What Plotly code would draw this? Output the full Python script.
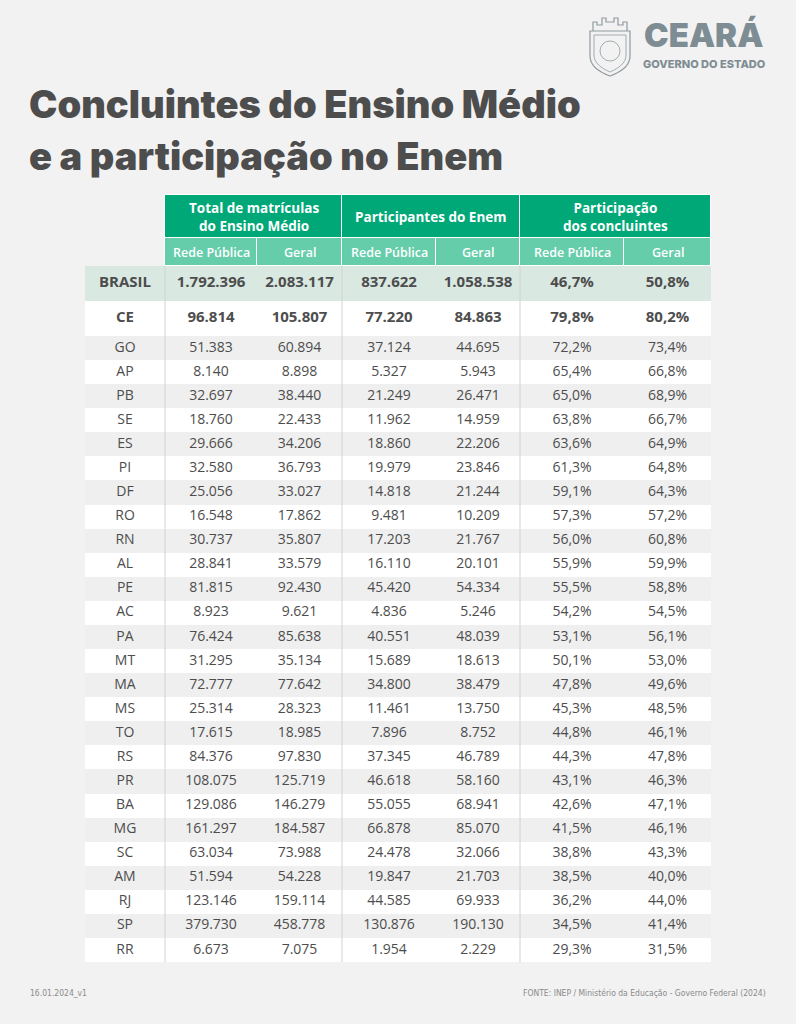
import plotly.graph_objects as go

# ---------------- DATA ----------------
states = ["BRASIL", "CE", "GO", "AP", "PB", "SE", "ES", "PI", "DF", "RO", "RN", "AL", "PE",
          "AC", "PA", "MT", "MA", "MS", "TO", "RS", "PR", "BA", "MG", "SC", "AM", "RJ", "SP", "RR"]
matriculas_publica = [1792396, 96814, 51383, 8140, 32697, 18760, 29666, 32580, 25056, 16548, 30737,
                      28841, 81815, 8923, 76424, 31295, 72777, 25314, 17615, 84376, 108075, 129086,
                      161297, 63034, 51594, 123146, 379730, 6673]
matriculas_geral = [2083117, 105807, 60894, 8898, 38440, 22433, 34206, 36793, 33027, 17862, 35807,
                    33579, 92430, 9621, 85638, 35134, 77642, 28323, 18985, 97830, 125719, 146279,
                    184587, 73988, 54228, 159114, 458778, 7075]
enem_publica = [837622, 77220, 37124, 5327, 21249, 11962, 18860, 19979, 14818, 9481, 17203,
                16110, 45420, 4836, 40551, 15689, 34800, 11461, 7896, 37345, 46618, 55055,
                66878, 24478, 19847, 44585, 130876, 1954]
enem_geral = [1058538, 84863, 44695, 5943, 26471, 14959, 22206, 23846, 21244, 10209, 21767,
              20101, 54334, 5246, 48039, 18613, 38479, 13750, 8752, 46789, 58160, 68941,
              85070, 32066, 21703, 69933, 190130, 2229]
participacao_publica = [46.7, 79.8, 72.2, 65.4, 65.0, 63.8, 63.6, 61.3, 59.1, 57.3, 56.0, 55.9, 55.5,
                        54.2, 53.1, 50.1, 47.8, 45.3, 44.8, 44.3, 43.1, 42.6, 41.5, 38.8, 38.5,
                        36.2, 34.5, 29.3]
participacao_geral = [50.8, 80.2, 73.4, 66.8, 68.9, 66.7, 64.9, 64.8, 64.3, 57.2, 60.8, 59.9, 58.8,
                      54.5, 56.1, 53.0, 49.6, 48.5, 46.1, 47.8, 46.3, 47.1, 46.1, 43.3, 40.0,
                      44.0, 41.4, 31.5]

group_headers = ["Total de matrículas<br>do Ensino Médio", "Participantes do Enem",
                 "Participação<br>dos concluintes"]
sub_headers = ["Rede Pública", "Geral", "Rede Pública", "Geral", "Rede Pública", "Geral"]

title_lines = ["Concluintes do Ensino Médio", "e a participação no Enem"]
footer_left = "16.01.2024_v1"
footer_right = "FONTE: INEP / Ministério da Educação - Governo Federal (2024)"

# ---------------- STYLE / GEOMETRY ----------------
W, H = 796, 1024
BG = "#f2f2f2"
DARK_GREEN = "#00a878"
LIGHT_GREEN = "#66cdab"
BRASIL_FILL = "#d9e8e1"
GREY_ROW = "#efefef"
WHITE = "#ffffff"
TEXT = "#4d4d4d"
LOGO = "#7e8c94"
FONT = "Open Sans"
HEAVY = "Inter"
CONDENSED = "DejaVu Sans Condensed"

table_left = 85
col_widths = [80, 92, 85, 94, 84, 104, 87]
col_lefts = [table_left + sum(col_widths[:i]) for i in range(len(col_widths))]
col_centers = [l + w / 2 for l, w in zip(col_lefts, col_widths)]
table_right = col_lefts[-1] + col_widths[-1]

group_top, group_h, sub_h = 195, 43, 28
big_row_h, row_h = 35, 24.08
body_top = group_top + group_h + sub_h

row_heights = [big_row_h if i < 2 else row_h for i in range(len(states))]
row_tops = [body_top + sum(row_heights[:i]) for i in range(len(states))]
row_centers = [t + h / 2 for t, h in zip(row_tops, row_heights)]
body_bottom = row_tops[-1] + row_heights[-1]

row_fills = []
for i in range(len(states)):
    if i == 0:
        row_fills.append(BRASIL_FILL)
    elif (i - 1) % 2 == 0:
        row_fills.append(WHITE)
    else:
        row_fills.append(GREY_ROW)


def fmt_int(v):
    return f"{v:,}".replace(",", ".")


def fmt_pct(v):
    return f"{v:.1f}".replace(".", ",") + "%"


columns_text = [
    states,
    [fmt_int(v) for v in matriculas_publica],
    [fmt_int(v) for v in matriculas_geral],
    [fmt_int(v) for v in enem_publica],
    [fmt_int(v) for v in enem_geral],
    [fmt_pct(v) for v in participacao_publica],
    [fmt_pct(v) for v in participacao_geral],
]

fig = go.Figure()

# Row backgrounds
fig.add_trace(go.Bar(
    orientation="h", y=row_centers, x=[table_right - table_left] * len(states),
    base=[table_left] * len(states), width=row_heights,
    marker=dict(color=row_fills, line=dict(width=0)), hoverinfo="skip", showlegend=False))

# Group header cells
group_lefts = [col_lefts[1], col_lefts[3], col_lefts[5]]
group_widths = [col_widths[1] + col_widths[2], col_widths[3] + col_widths[4], col_widths[5] + col_widths[6]]
fig.add_trace(go.Bar(
    orientation="h", y=[group_top + group_h / 2] * 3, x=group_widths, base=group_lefts,
    width=[group_h] * 3, marker=dict(color=DARK_GREEN, line=dict(color=WHITE, width=1)),
    hoverinfo="skip", showlegend=False))

# Sub header cells
fig.add_trace(go.Bar(
    orientation="h", y=[group_top + group_h + sub_h / 2] * 6, x=col_widths[1:], base=col_lefts[1:],
    width=[sub_h] * 6, marker=dict(color=LIGHT_GREEN, line=dict(color=WHITE, width=1)),
    hoverinfo="skip", showlegend=False))

# Cell texts
for j, col in enumerate(columns_text):
    texts = [f"<b>{t}</b>" if i < 2 else t for i, t in enumerate(col)]
    sizes = [15 if i < 2 else 14 for i in range(len(col))]
    fig.add_trace(go.Scatter(
        x=[col_centers[j]] * len(col), y=row_centers, mode="text", text=texts,
        textposition="middle center",
        textfont=dict(family=FONT, size=sizes, color=TEXT),
        hoverinfo="skip", showlegend=False, cliponaxis=False))

annotations = []
for k, g in enumerate(group_headers):
    annotations.append(dict(x=group_lefts[k] + group_widths[k] / 2, y=group_top + group_h / 2,
                            text=g, showarrow=False, xref="x", yref="y",
                            font=dict(family=FONT, size=13.5, color=WHITE, weight=700)))
for k, s in enumerate(sub_headers):
    annotations.append(dict(x=col_centers[k + 1], y=group_top + group_h + sub_h / 2,
                            text=s, showarrow=False, xref="x", yref="y",
                            font=dict(family=FONT, size=12.5, color=WHITE, weight=600)))

# Title
annotations.append(dict(x=27, y=104, text=title_lines[0], showarrow=False, xref="x", yref="y",
                        xanchor="left", yanchor="middle",
                        font=dict(family=HEAVY, size=38, color=TEXT, weight=900)))
annotations.append(dict(x=27, y=156, text=title_lines[1], showarrow=False, xref="x", yref="y",
                        xanchor="left", yanchor="middle",
                        font=dict(family=HEAVY, size=38, color=TEXT, weight=900)))

# Logo text
annotations.append(dict(x=703, y=35, text="CEARÁ", showarrow=False, xref="x", yref="y",
                        font=dict(family=HEAVY, size=33, color=LOGO, weight=900)))
annotations.append(dict(x=704, y=64, text="GOVERNO DO ESTADO", showarrow=False, xref="x", yref="y",
                        font=dict(family=HEAVY, size=11, color=LOGO, weight=800)))

# Footer
annotations.append(dict(x=28, y=993, text=footer_left, showarrow=False, xref="x", yref="y",
                        xanchor="left", font=dict(family=CONDENSED, size=8.5, color="#8a8a8a")))
annotations.append(dict(x=768, y=993, text=footer_right, showarrow=False, xref="x", yref="y",
                        xanchor="right", font=dict(family=CONDENSED, size=8.5, color="#8a8a8a")))

shapes = []
# Column separators in the body
for xi in [col_lefts[1], col_lefts[3], col_lefts[5]]:
    shapes.append(dict(type="line", xref="x", yref="y", x0=xi, x1=xi, y0=body_top, y1=body_bottom,
                       line=dict(color="#d2d2d2", width=1)))

# Crest (decorative)
crest = ("M 590 31 L 630 31 L 630 56 C 630 66 621 72 610 76 C 599 72 590 66 590 56 Z "
         "M 593 31 L 593 22 L 597 22 L 597 25 L 602 25 L 602 18 L 606 18 L 606 22 L 614 22 "
         "L 614 18 L 618 18 L 618 25 L 623 25 L 623 22 L 627 22 L 627 31")
shapes.append(dict(type="path", xref="x", yref="y", path=crest, line=dict(color="#8f9aa0", width=1.2)))
shapes.append(dict(type="path", xref="x", yref="y",
                   path="M 594 35 L 626 35 L 626 55 C 626 63 619 68 610 72 C 601 68 594 63 594 55 Z",
                   line=dict(color="#8f9aa0", width=0.8)))
shapes.append(dict(type="circle", xref="x", yref="y", x0=600, x1=620, y0=41, y1=61,
                   line=dict(color="#8f9aa0", width=0.8)))

fig.update_layout(
    width=W, height=H, margin=dict(l=0, r=0, t=0, b=0),
    paper_bgcolor=BG, plot_bgcolor=BG, barmode="overlay", bargap=0,
    xaxis=dict(range=[0, W], visible=False, fixedrange=True),
    yaxis=dict(range=[H, 0], visible=False, fixedrange=True),
    annotations=annotations, shapes=shapes, showlegend=False,
)

fig.write_html("out.html", config={"displayModeBar": False},
               post_script="document.body.style.margin='0';")
